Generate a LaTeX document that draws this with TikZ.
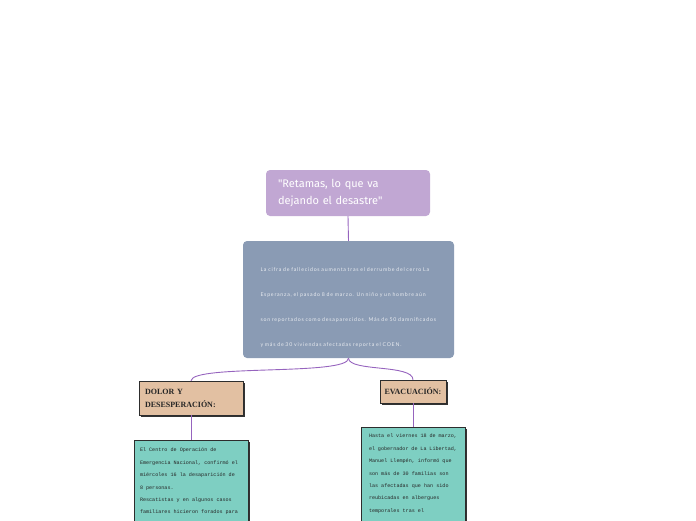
\documentclass[tikz,border=0pt]{standalone}
\usepackage{fontspec}
\setmainfont{Liberation Sans}
\newfontfamily\titlefont{Fira Sans}
\newfontfamily\headfont{Liberation Serif}
\newfontfamily\notefont{Liberation Mono}
\newfontfamily\descfont[LetterSpace=15]{Lato}
\usetikzlibrary{shadows}
\definecolor{tpurp}{RGB}{193,167,211}
\definecolor{lpurp}{RGB}{150,100,190}
\definecolor{dgray}{RGB}{138,155,180}
\definecolor{ltan} {RGB}{226,192,162}
\definecolor{lteal}{RGB}{126,207,194}
\definecolor{dline}{RGB}{45,45,45}
\tikzset{
  % Purple title node
  TT/.style={rectangle,rounded corners=4pt,fill=tpurp,text=white,
             minimum width=164pt,minimum height=46pt,text width=140pt,
             align=left,font=\titlefont\fontsize{11}{17}\selectfont},
  % Grey summary node
  GB/.style={rectangle,rounded corners=4pt,fill=dgray,text=white!80!dgray,
             minimum width=211pt,minimum height=117pt,text width=176pt,
             align=left,font=\descfont\fontsize{5.2}{25}\selectfont},
  % Tan heading node
  HB/.style={rectangle,draw=dline,fill=ltan,line width=0.5pt,
             drop shadow={shadow xshift=2pt,shadow yshift=-2pt,
                          fill=black!80,opacity=1},
             font=\headfont\bfseries\fontsize{8}{13}\selectfont,
             text=black!85,align=left},
  % Teal note node
  NB/.style={rectangle,draw=dline,fill=lteal,line width=0.5pt,anchor=north,
             drop shadow={shadow xshift=2pt,shadow yshift=-2pt,
                          fill=black!80,opacity=1},
             font=\notefont\fontsize{5.1}{12.4}\selectfont,text=black!85},
  % Connectors
  Con/.style={line width=0.9pt,color=lpurp},
}
\begin{document}
\begin{tikzpicture}[x=1pt,y=-1pt]
\useasboundingbox (0,0) rectangle (696,520);
\clip (0,0) rectangle (696,520);
% ── Title ────────────────────────────────
\node[TT] at (348,193) (title)
{"Retamas, lo que va\\dejando el desastre"};
% ── Summary ──────────────────────────────
\node[GB] at (348.5,299.5) (desc)
{\rule{0pt}{20pt}La cifra de fallecidos aumenta tras el derrumbe del cerro La\\
 Esperanza, el pasado 8 de marzo. Un niño y un hombre aún\\
 son reportados como desaparecidos. Más de 50 damnificados\\
 y más de 30 viviendas afectadas reporta el COEN.};
\draw[Con] (title.south) -- (desc.north);
% ── Headings ─────────────────────────────
\node[HB,minimum width=104pt,minimum height=34pt,text width=92pt]
at (191,398) (dolor) {DOLOR Y\\DESESPERACIÓN:};
\node[HB,minimum width=66pt,minimum height=23pt,align=center]
at (413,391.5) (evac) {EVACUACIÓN:};
\draw[Con] (desc.south) .. controls (349,376) and (192,364) .. (dolor.north);
\draw[Con] (desc.south) .. controls (349,372) and (413,364) .. (evac.north);
% ── Notes ────────────────────────────────
\node[NB,inner xsep=6pt,inner ysep=8pt] at (191,440) (note1)
{\parbox[t][110pt][t]{102pt}{\raggedright
 El Centro de Operación de\\
 Emergencia Nacional, confirmó el\\
 miércoles 16 la desaparición de\\
 8 personas.\\
 Rescatistas y en algunos casos\\
 familiares hicieron forados para}};
\node[NB,inner xsep=8pt,inner ysep=7pt] at (413,427) (note2)
{\parbox[t][120pt][t]{88pt}{\raggedright
 Hasta el viernes 18 de marzo,\\
 el gobernador de La Libertad,\\
 Manuel Llempén, informó que\\
 son más de 30 familias son\\
 las afectadas que han sido\\
 reubicadas en albergues\\
 temporales tras el}};
\draw[Con] (dolor.south) -- (note1.north);
\draw[Con] (evac.south) -- (note2.north);
\end{tikzpicture}
\end{document}
